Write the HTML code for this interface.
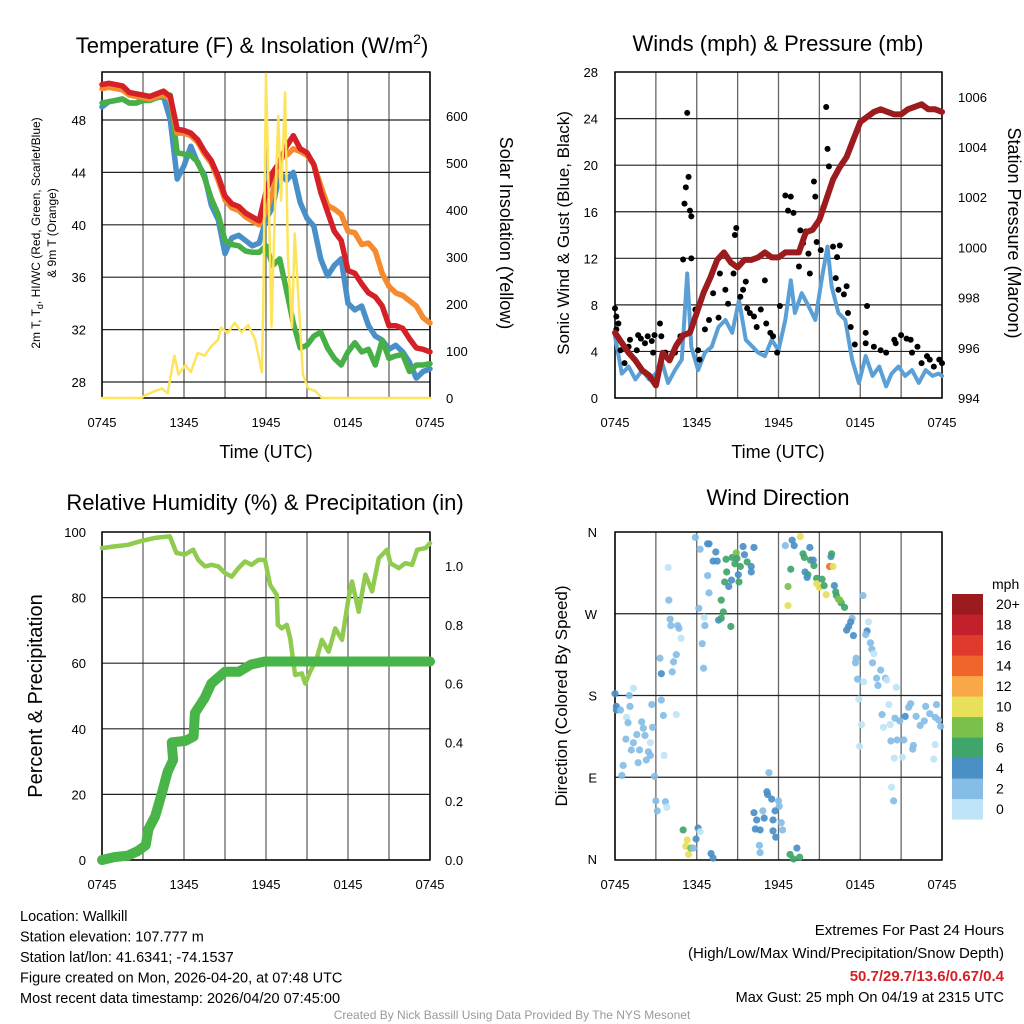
<!DOCTYPE html>
<html><head><meta charset="utf-8"><style>
html,body{margin:0;padding:0;background:#fff;}
svg{display:block;font-family:"Liberation Sans",sans-serif;}
</style></head><body>
<svg id="chart" width="1024" height="1024" viewBox="0 0 1024 1024"></svg>
<script>
// ---------- DATA ----------
const halfHours = [0,0.5,1,1.5,2,2.5,3,3.5,4,4.5,5,5.5,6,6.5,7,7.5,8,8.5,9,9.5,10,10.5,11,11.5,12,12.5,13,13.5,14,14.5,15,15.5,16,16.5,17,17.5,18,18.5,19,19.5,20,20.5,21,21.5,22,22.5,23,23.5,24];
const tempRed = [50.7,50.8,50.7,50.6,50.1,50.0,49.9,49.8,50.0,50.2,49.8,47.3,47.2,47.0,46.5,45.6,44.9,43.7,42.2,41.6,41.4,40.9,40.6,40.3,42.5,44.0,44.8,46.0,46.8,45.8,45.5,44.6,42.5,41.0,39.5,38.8,36.5,36.3,35.5,34.8,34.5,33.8,32.3,32.3,32.1,31.3,30.6,30.5,30.3];
const tempOrange = [50.4,50.5,50.4,50.3,49.9,49.8,49.7,49.6,49.8,49.9,49.6,47.0,47.0,46.8,46.3,45.4,44.7,43.4,41.9,41.3,41.1,40.6,40.3,40.0,41.0,42.5,45.0,45.3,45.8,45.6,45.3,44.6,43.0,41.5,41.2,40.8,39.5,39.4,38.5,38.6,38.0,36.3,35.3,34.8,34.6,34.2,33.8,32.9,32.5];
const tempGreen = [49.3,49.4,49.5,49.6,49.3,49.3,49.5,49.5,49.7,49.8,49.9,45.5,45.4,45.3,44.8,43.6,42.0,40.8,38.8,38.5,38.4,38.0,37.9,37.9,38.4,36.9,37.4,35.0,32.5,30.6,30.8,31.5,31.8,30.6,29.8,29.3,30.3,31.0,30.3,30.5,29.3,31.2,29.8,30.0,30.1,28.8,29.3,29.3,29.4];
const tempBlue = [49.0,49.4,49.5,49.6,49.3,49.3,49.5,49.5,49.7,49.8,48.0,43.5,44.5,46.0,44.7,43.8,41.5,40.4,37.8,39.0,39.2,38.8,38.4,38.6,40.4,41.4,44.0,43.4,44.0,41.7,40.5,39.9,37.4,36.1,36.9,37.4,34.0,33.5,33.8,32.3,31.5,31.2,30.5,30.8,30.3,29.5,28.3,28.8,29.0];
const insolHours = [0,2.9,3.1,3.9,4.4,4.8,5.3,5.6,6.1,6.5,7.0,7.5,8.0,8.5,8.7,9.2,9.7,10.2,10.7,11.2,11.7,11.8,12.0,12.3,12.4,12.65,12.9,13.1,13.4,13.6,13.9,14.1,14.4,14.7,15.1,15.6,16.1,24];
const insolVals = [0,0,5,15,20,10,90,50,70,55,96,90,110,124,150,138,160,140,155,125,55,200,690,300,152,400,600,420,650,300,150,350,200,50,20,15,0,0];

const pressure = [996.6,996.2,995.8,995.5,995.1,994.9,994.5,995.8,995.5,996.1,996.5,996.6,997.4,998.2,998.8,999.5,999.8,999.4,999.2,999.5,999.5,999.6,999.8,999.6,999.6,999.8,999.8,999.8,1000.6,1000.7,1001.1,1001.9,1002.7,1003.2,1003.6,1004.3,1005.0,1005.2,1005.4,1005.5,1005.4,1005.3,1005.3,1005.5,1005.6,1005.7,1005.5,1005.5,1005.4];
const windHours = [0,0.5,1,1.5,2,2.5,3,3.4,3.9,4.4,4.9,5.3,5.6,6.1,6.6,7.1,7.6,8.1,8.6,9.1,9.6,10.1,10.5,11.0,11.5,12.0,12.5,12.9,13.2,13.7,14.2,14.7,15.2,15.6,15.9,16.4,16.9,17.4,17.9,18.4,18.9,19.4,19.9,20.3,20.8,21.3,21.8,22.3,22.8,23.3,23.75,24];
const windVals = [5.3,2.1,2.7,1.6,2.4,1.6,2.1,3.3,1.3,2.4,3.3,10.7,4.4,2.4,3.9,4.4,6.1,6.7,5.6,8.4,5.0,4.4,3.9,3.6,5.0,4.1,6.7,10.1,7.3,9.0,7.9,6.7,10.4,13.0,9.6,7.3,6.7,3.3,1.3,3.6,1.9,2.7,1.0,2.1,2.7,1.9,2.4,1.3,2.4,1.9,2.1,1.9];
const gustHours = [0,0.1,0.25,0.1,0.4,0.7,1.1,1.0,1.6,1.7,1.9,2.2,2.4,2.7,2.8,2.9,3.3,3.4,3.7,4.0,4.4,4.8,5.0,5.1,5.2,5.4,5.5,5.6,5.6,5.3,5.9,6.1,6.2,6.6,6.9,7.2,7.6,7.7,8.1,8.3,8.7,8.8,8.9,9.2,9.4,9.6,9.7,9.9,10.2,10.4,10.7,11.0,11.1,11.4,11.6,11.9,12.1,12.5,12.9,12.7,13.1,13.5,13.6,13.8,14.0,14.2,14.3,14.6,14.7,14.8,15.1,15.3,15.5,15.6,15.7,16.0,16.2,16.3,16.4,16.5,16.8,17.0,17.1,17.3,17.6,18.4,18.5,18.4,19.0,19.5,19.9,20.5,20.6,21.0,21.4,21.7,21.8,22.2,22.5,22.9,23.1,23.4,23.8,24.0];
const gustVals = [7.7,7.0,6.4,5.9,4.1,3.0,5.0,4.4,4.1,5.4,5.1,4.7,5.3,4.9,3.9,5.4,6.4,5.3,3.9,3.3,3.9,5.3,11.9,16.7,18.1,19.0,16.1,15.6,12.0,24.5,7.6,4.1,3.3,5.9,6.7,9.0,6.9,10.7,9.3,8.1,10.7,14.0,14.6,8.7,9.3,10.0,7.7,7.3,7.0,6.1,7.6,10.1,6.4,5.6,5.3,3.9,7.9,17.4,17.3,16.1,15.9,11.3,14.4,13.3,14.3,12.4,10.7,18.6,17.3,13.4,12.7,16.4,25.0,21.4,19.9,13.0,10.3,12.1,9.3,13.1,8.9,9.6,7.3,6.1,4.6,4.7,7.9,5.6,4.4,4.1,3.9,5.0,4.7,5.4,5.1,5.0,3.9,4.4,3.0,3.6,3.3,2.7,3.3,3.0];

const rhHours = [0,0.93,1.91,2.89,3.86,4.96,5.45,6.06,6.67,7.04,7.53,8.02,8.51,9.0,9.49,9.98,10.46,10.95,11.44,11.93,12.3,12.79,12.86,13.15,13.52,13.77,14.13,14.62,14.87,15.23,15.72,16.09,16.58,17.07,17.56,18.04,18.29,18.78,19.27,19.76,20.25,20.86,21.1,21.71,22.2,22.69,23.06,23.67,24.0];
const rhVals = [95.1,95.6,96.1,97.3,98.2,98.7,93.6,93.1,94.6,91.5,89.5,90.0,89.5,87.5,86.4,89.0,91.0,90.0,91.5,91.5,83.9,80.8,71.7,70.6,71.7,67.6,56.4,56.9,53.8,57.4,61.5,67.1,63.5,70.6,67.1,79.8,84.9,75.7,87.0,81.9,92.0,94.6,90.5,89.0,90.5,90.0,94.6,95.1,96.6];
const precipHours = [0,0.9,1.9,2.6,3.2,3.4,3.9,4.4,4.8,5.2,5.1,6.1,6.7,6.8,7.5,8.0,9.0,10.0,10.9,11.9,24.0];
const precipVals = [0.0,0.01,0.015,0.03,0.05,0.105,0.15,0.23,0.30,0.34,0.40,0.405,0.42,0.50,0.55,0.60,0.64,0.64,0.665,0.675,0.675];

const dirHours = [0,0.1,0.1,0.4,1.05,1.35,1.1,0.85,0.96,1.96,2.08,1.6,2.2,1.35,0.8,1.2,1.8,2.45,2.6,2.3,1.7,0.6,0.5,2.6,2.76,2.7,3.4,3.55,4.5,3.6,2.9,3.0,3.1,3.7,3.8,3.3,3.4,4.2,4.3,4.5,4.85,4.7,4.6,4.1,4.05,3.95,3.9,5.9,6.25,6.8,6.9,7.4,7.2,7.5,6.8,6.9,6.15,6.55,6.6,6.4,6.5,7.6,7.8,7.95,7.8,8.5,8.05,8.2,8.15,8.55,8.35,8.6,8.9,8.95,8.8,9.1,9.2,9.4,9.5,9.7,10.0,10.0,9.05,10.2,5.0,5.3,5.2,5.4,5.56,5.75,5.95,6.1,6.25,7.05,7.2,11.3,11.15,11.2,11.5,12.0,12.05,11.75,10.85,10.2,10.95,10.4,11.6,12.2,10.3,10.65,11.6,12.3,11.8,10.6,10.65,13.35,12.85,13.55,13.1,12.5,13.0,13.15,13.6,13.8,14.3,13.9,14.35,14.6,14.55,12.9,12.7,12.7,13.95,14.15,14.1,14.8,14.8,15.0,15.2,15.35,15.5,15.75,16.0,15.85,15.9,16.1,16.2,16.25,16.4,16.6,16.5,16.85,17.4,17.3,17.15,17.0,17.5,18.2,18.6,18.5,18.4,18.75,18.85,19.0,17.7,17.65,18.9,19.5,19.2,19.3,19.85,19.95,17.8,18.25,20.65,17.9,18.1,17.95,20.1,19.6,19.7,20.2,20.55,20.9,21.3,21.55,21.7,22.1,22.4,22.8,23.1,23.5,23.6,23.9,23.75,20.25,20.7,21.2,21.9,21.85,23.5,23.4,21.1,20.5,20.3,20.45,22.7];
const dirDeg = [182,168,164,164,180,188,168,156,150,151,144,137,136,128,132,120,120,118,114,109,106,103,92,128,145,170,175,158,159,114,91,64,53,63,57,221,204,206,217,225,243,254,257,257,264,285,321,354,341,347,347,338,328,328,312,293,276,266,257,237,210,263,265,272,285,256,305,316,330,307,300,332,337,331,325,305,322,344,335,327,322,316,313,343,32,21,14,5,12,12,22,34,30,6,1,95,74,71,66,64,58,53,53,51,45,43,43,40,33,32,31,32,24,15,7,12,5,2,0,345,351,345,355,336,343,332,329,323,329,319,300,279,316,313,310,309,303,299,308,301,291,322,322,333,336,301,294,290,286,282,285,277,265,261,256,252,246,290,261,251,247,238,231,226,221,216,216,208,199,191,199,197,198,195,189,176,148,124,170,159,145,148,155,152,157,167,171,157,147,168,160,156,170,146,153,130,131,131,125,121,126,110,112,111,79,64,152];
const dirSpeed = [5,5,5,3,3,1,3,1,3,3,3,3,3,3,3,3,3,3,3,3,3,3,3,1,3,3,3,3,1,1,3,3,3,3,1,3,5,3,3,3,1,3,3,3,3,3,1,3,3,5,5,5,5,5,3,3,3,1,3,3,3,5,7,7,7,7,7,7,7,5,5,7,9,7,7,7,7,5,5,7,5,5,5,5,7,11,11,11,9,3,5,5,1,5,5,3,5,5,5,3,3,5,3,5,5,5,5,3,5,5,5,3,5,3,3,5,7,7,7,3,5,5,11,7,5,7,7,7,5,7,9,11,5,7,5,7,11,11,7,7,11,15,11,5,7,5,7,7,9,7,9,7,3,5,5,5,5,3,1,5,3,3,3,1,3,3,3,3,3,3,3,1,3,1,1,1,1,1,1,3,1,1,3,3,5,3,3,3,3,3,3,3,3,3,3,3,3,3,3,3,1,1,1,1,1,3,3,3,3];
const speedColors = ["#bfe4f7","#86bde6","#4a8fc6","#40a56b","#7cc04c","#e8e05a","#f8a847","#f0652b","#e03a2c","#c2202a","#9b1b1e"];
const speedLabels = ["0","2","4","6","8","10","12","14","16","18","20+"];

// ---------- HELPERS ----------
const NS = "http://www.w3.org/2000/svg";
const svg = document.getElementById('chart');
function mk(tag, attrs, parent){const e=document.createElementNS(NS,tag);for(const k in attrs)e.setAttribute(k,attrs[k]);(parent||svg).appendChild(e);return e;}
function txt(s,x,y,size,anchor,parent,extra){const e=mk('text',Object.assign({x:x,y:y,'font-size':size,'text-anchor':anchor||'middle',fill:'#000'},extra||{}),parent);e.textContent=s;return e;}
function pathOf(xs,ys){return xs.map((x,i)=>(i?'L':'M')+x.toFixed(1)+' '+ys[i].toFixed(1)).join(' ');}

const P1={x0:102,x1:430,y0:72,y1:398}, P2={x0:615,x1:942,y0:72,y1:398}, P3={x0:102,x1:430,y0:532,y1:860}, P4={x0:615,x1:942,y0:532,y1:860};
function xh(P,h){return P.x0+h*(P.x1-P.x0)/24;}
const yT=t=>382-(t-28)*13.1, yI=v=>398-v*0.47;
const yW=v=>398-v*11.64, yP=p=>398-(p-994)*25.1;
const yRH=v=>860-v*3.28, yPr=v=>860-v*294;
const yD=d=>859-d*327/360;
const xLabels=["0745","1345","1945","0145","0745"];

function grid(P,hLines,name){
  const g=mk('g',{});
  
  
  for(let k=0;k<=8;k++){const x=P.x0+k*(P.x1-P.x0)/8;mk('line',{x1:x,x2:x,y1:P.y0,y2:P.y1,stroke:'#666','stroke-width':1.3},g);}
  hLines.forEach(y=>mk('line',{x1:P.x0,x2:P.x1,y1:y,y2:y,stroke:'#222','stroke-width':1.2},g));
  const r=mk('rect',{x:P.x0,y:P.y0,width:P.x1-P.x0,height:P.y1-P.y0,fill:'none',stroke:'#000','stroke-width':1.5});
  
  
  const xg=mk('g',{});
  
  
  xLabels.forEach((l,k)=>{txt(l,P.x0+k*(P.x1-P.x0)/4,P.y1+29,13,'middle',xg);});
}
function drawLine(xs,ys,color,w,name,parent){
  const p=mk('path',{d:pathOf(xs,ys),fill:'none',stroke:color,'stroke-width':w,'stroke-linejoin':'round','stroke-linecap':'round'},parent);
  
  
  return p;
}

// ---------- PANEL 1 ----------
grid(P1,[28,32,36,40,44,48].map(yT),'temp-panel');
let t=txt('',252,53,22,'middle');


t.innerHTML='Temperature (F) &amp; Insolation (W/m<tspan dy="-9" font-size="14">2</tspan><tspan dy="9">)</tspan>';
[28,32,36,40,44,48].forEach(v=>{const e=txt(String(v),86,yT(v)+5,13,'end');

});
[0,100,200,300,400,500,600].forEach(v=>{const e=txt(String(v),446,yI(v)+5,13,'start');

});
t=txt('Time (UTC)',266,458,18);


t=mk('text',{transform:'translate(40,233) rotate(-90)','font-size':12,'text-anchor':'middle'});


t.innerHTML='2m T, T<tspan dy="3" font-size="9">d</tspan><tspan dy="-3">, HI/WC (Red, Green, Scarlet/Blue)</tspan>';
t=txt('& 9m T (Orange)',0,0,12,'middle',svg,{transform:'translate(56,233) rotate(-90)'});


t=txt('Solar Insolation (Yellow)',0,0,18,'middle',svg,{transform:'translate(500,233) rotate(90)'});


const hx1=halfHours.map(h=>xh(P1,h));
drawLine(hx1,tempBlue.map(yT),'#4a90c8',5.5,'series-wind-chill-blue');
drawLine(hx1,tempGreen.map(yT),'#46b046',5.5,'series-dewpoint-green');
drawLine(hx1,tempOrange.map(yT),'#f58a2f',5.5,'series-9m-temp-orange');
drawLine(hx1,tempRed.map(yT),'#d62027',5.5,'series-2m-temp-red');
drawLine(insolHours.map(h=>xh(P1,h)),insolVals.map(yI),'#fde45a',2.5,'series-insolation-yellow');

// ---------- PANEL 2 ----------
grid(P2,[0,4,8,12,16,20,24].map(yW),'wind-panel');
t=txt('Winds (mph) & Pressure (mb)',778,51,22);


[0,4,8,12,16,20,24,28].forEach(v=>{const e=txt(String(v),598,yW(v)+5,13,'end');

});
[994,996,998,1000,1002,1004,1006].forEach(v=>{const e=txt(String(v),958,yP(v)+5,13,'start');

});
t=txt('Time (UTC)',778,458,18);


t=txt('Sonic Wind & Gust (Blue, Black)',0,0,17,'middle',svg,{transform:'translate(569,233) rotate(-90)'});


t=txt('Station Pressure (Maroon)',0,0,18,'middle',svg,{transform:'translate(1008,233) rotate(90)'});


drawLine(windHours.map(h=>xh(P2,h)),windVals.map(yW),'#5a9fd6',4,'series-sonic-wind-blue');
const gg=mk('g',{});


gustHours.forEach((h,i)=>{const c=mk('circle',{cx:xh(P2,h),cy:yW(gustVals[i]),r:3,fill:'#000'},gg);

});
drawLine(halfHours.map(h=>xh(P2,h)),pressure.map(yP),'#9b1b1e',6,'series-pressure-maroon');

// ---------- PANEL 3 ----------
grid(P3,[0,20,40,60,80].map(yRH),'rh-panel');
t=txt('Relative Humidity (%) & Precipitation (in)',265,510,22);


[0,20,40,60,80,100].forEach(v=>{const e=txt(String(v),86,yRH(v)+5,13,'end');

});
[0,0.2,0.4,0.6,0.8,1.0].forEach(v=>{const e=txt(v.toFixed(1),445,yPr(v)+5,13,'start');

});
t=txt('Percent & Precipitation',0,0,20,'middle',svg,{transform:'translate(42,696) rotate(-90)'});


drawLine(rhHours.map(h=>xh(P3,h)),rhVals.map(yRH),'#8fcb4e',4.5,'series-relative-humidity');
drawLine(precipHours.map(h=>xh(P3,h)),precipVals.map(yPr),'#49b548',10,'series-precipitation');

// ---------- PANEL 4 ----------
grid(P4,[90,180,270].map(yD),'direction-panel');
t=txt('Wind Direction',778,505,22);


[[0,'N'],[90,'E'],[180,'S'],[270,'W'],[360,'N']].forEach(a=>{const e=txt(a[1],597,yD(a[0])+5,13,'end');

});
t=txt('Direction (Colored By Speed)',0,0,17,'middle',svg,{transform:'translate(567,696) rotate(-90)'});


const dg=mk('g',{});


dirHours.forEach((h,i)=>{const b=Math.min(10,Math.floor(dirSpeed[i]/2));
const c=mk('circle',{cx:xh(P4,h),cy:yD(dirDeg[i]),r:3.6,fill:speedColors[b],'fill-opacity':0.92},dg);

});
const cb=mk('g',{});


t=txt('mph',992,589,14,'start',cb);
speedLabels.forEach((l,i)=>{const k=10-i;const y=594+k*20.5;
const r=mk('rect',{x:952,y:y,width:31,height:20.6,fill:speedColors[i]},cb);


const e=txt(l,996,y+15,14,'start',cb);

});

// ---------- FOOTER TEXT ----------
const info=["Location: Wallkill","Station elevation: 107.777 m","Station lat/lon: 41.6341; -74.1537","Figure created on Mon, 2026-04-20, at 07:48 UTC","Most recent data timestamp: 2026/04/20 07:45:00"];
info.forEach((s,i)=>{const e=txt(s,20,921+i*20.5,14.5,'start');

});
t=txt('Extremes For Past 24 Hours',1004,935,15,'end');


t=txt('(High/Low/Max Wind/Precipitation/Snow Depth)',1004,958,15,'end');


t=txt('50.7/29.7/13.6/0.67/0.4',1004,981,15,'end',svg,{fill:'#d62027','font-weight':'bold'});


t=txt('Max Gust: 25 mph On 04/19 at 2315 UTC',1004,1002,14.5,'end');


t=txt('Created By Nick Bassill Using Data Provided By The NYS Mesonet',512,1019,12,'middle',svg,{fill:'#999'});


</script>
</body></html>
